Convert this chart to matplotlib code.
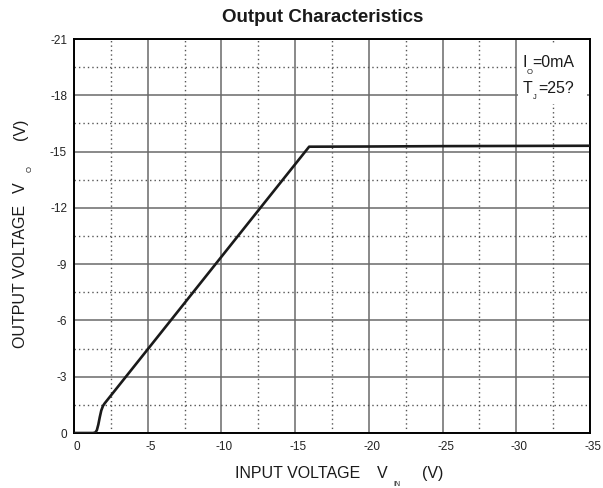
import matplotlib
matplotlib.use('Agg')
import matplotlib.pyplot as plt
from matplotlib.patches import Rectangle
import matplotlib.transforms as mtransforms

plt.rcParams['font.family'] = ['Liberation Sans', 'DejaVu Sans']

# ---- data ----
vin = [0, -1.3, -1.45, -1.55, -1.65, -1.75, -1.85, -1.97, -2.08,
       -3.55, -6.54, -9.58, -12.62, -15.95, -20, -25, -30, -35]
vout = [0, 0, 0.03, 0.15, 0.45, 0.85, 1.2, 1.45, 1.58,
        3.03, 5.98, 8.98, 11.98, 15.26, 15.27, 15.29, 15.30, 15.31]
vout = [-v for v in vout]

x_ticks = [0, -5, -10, -15, -20, -25, -30, -35]
x_tick_labels = ['0', '-5', '-10', '-15', '-20', '-25', '-30', '-35']
x_minor = [-2.5, -7.5, -12.5, -17.5, -22.5, -27.5, -32.5]
y_ticks = [0, -3, -6, -9, -12, -15, -18, -21]
y_tick_labels = ['0', '-3', '-6', '-9', '-12', '-15', '-18', '-21']
y_minor = [-1.5, -4.5, -7.5, -10.5, -13.5, -16.5, -19.5]

W, H = 603, 488
fig = plt.figure(figsize=(W / 100, H / 100), dpi=100)
ax = fig.add_axes([74 / W, 1 - 433 / H, (590 - 74) / W, (433 - 39) / H])

ax.set_xlim(0, -35)
ax.set_ylim(0, -21)
ax.set_xticks(x_ticks)
ax.set_xticklabels(x_tick_labels)
ax.set_xticks(x_minor, minor=True)
ax.set_yticks(y_ticks)
ax.set_yticklabels(y_tick_labels)
ax.set_yticks(y_minor, minor=True)
ax.tick_params(which='both', length=0)
ax.tick_params(axis='x', pad=5.5, labelsize=8.5, colors='#222222')
ax.tick_params(axis='y', pad=5, labelsize=8.5, colors='#222222')

off = mtransforms.ScaledTranslation(3.0 / 100, 0, fig.dpi_scale_trans)
for lab in ax.get_xticklabels():
    lab.set_transform(lab.get_transform() + off)

ax.set_axisbelow(True)
ax.grid(which='major', color='#6a6a6a', lw=1.1, ls='-')
ax.grid(which='minor', color='#555555', lw=1.0, ls=(0, (1, 2.2)))
for s in ax.spines.values():
    s.set_color('black')
    s.set_linewidth(1.4)

# white box behind the annotation
ax.add_patch(Rectangle((518, H - 104), 587 - 518, 104 - 44,
                       transform=None, facecolor='white', edgecolor='none', zorder=1.5))

ax.plot(vin, vout, color='#1a1a1a', lw=1.9, zorder=3, solid_capstyle='round')

def ftext(x, y, s, **kw):
    return fig.text(x / W, 1 - y / H, s, ha='left', va='baseline', **kw)

# title
ftext(222, 22, 'Output Characteristics', fontsize=13.5, fontweight='bold', color='#1a1a1a')

# annotation
ftext(523, 67, 'I', fontsize=11.5, color='#1a1a1a')
ftext(527, 74, 'O', fontsize=5.5, color='#1a1a1a')
ftext(532, 67, '=0mA', fontsize=11.5, color='#1a1a1a')
ftext(523, 93, 'T', fontsize=11.5, color='#1a1a1a')
ftext(533, 99, 'J', fontsize=5.5, color='#1a1a1a')
ftext(538, 93, '=25?', fontsize=11.5, color='#1a1a1a')

# x label
ftext(235, 478, 'INPUT VOLTAGE', fontsize=11.5, color='#1a1a1a')
ftext(377, 478, 'V', fontsize=11.5, color='#1a1a1a')
ftext(393, 486, 'IN', fontsize=5, color='#1a1a1a')
ftext(422, 478, '(V)', fontsize=11.5, color='#1a1a1a')

# y label (rotated)
def rtext(x, y, s, **kw):
    return fig.text(x / W, 1 - y / H, s, ha='left', va='baseline',
                    rotation=90, rotation_mode='anchor', **kw)

rtext(25, 348, 'OUTPUT VOLTAGE', fontsize=11.5, color='#1a1a1a')
rtext(25, 193, 'V', fontsize=11.5, color='#1a1a1a')
rtext(31.5, 172, 'O', fontsize=5.5, color='#1a1a1a')
rtext(25, 140, '(V)', fontsize=11.5, color='#1a1a1a')

fig.savefig('out.png', dpi=100, facecolor='white')
